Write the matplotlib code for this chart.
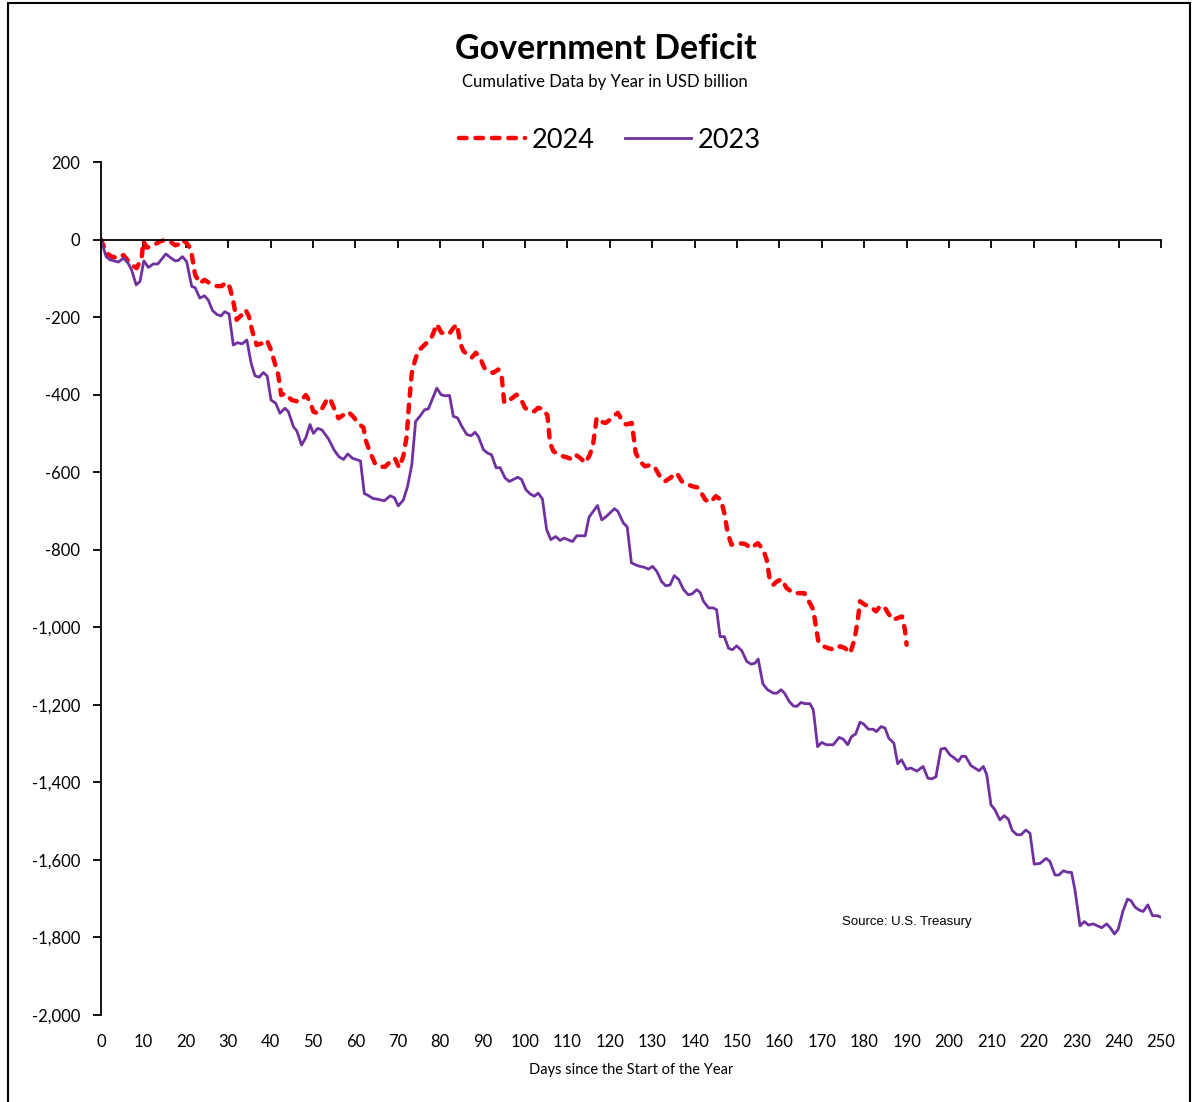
import matplotlib
matplotlib.use("Agg")
import matplotlib.pyplot as plt
from matplotlib.patches import Rectangle
from matplotlib.ticker import FuncFormatter

# (day since start of year, cumulative deficit, USD bn)
day_2024 = [0, 1.3, 2.5, 4.1, 5.3, 6.4, 7.2, 8.4, 9.6, 10.0, 10.8, 12.3, 13.9, 15.1, 16.3, 17.5, 18.4, 19.2,
            20.2, 21.2, 22.2, 23.3, 24.4, 25.7, 27.3, 28.5, 29.6, 30.4, 31.2, 32.0, 33.2, 34.1, 34.9, 35.7,
            36.7, 37.9, 39.1, 40.1, 41.0, 41.8, 42.5, 43.4, 45.0, 46.5, 47.3, 48.3, 49.3, 50.1, 51.1, 52.1,
            53.2, 54.0, 54.8, 56.0, 57.2, 58.3, 59.5, 60.7, 61.9, 62.4, 63.4, 64.6, 65.8, 67.0, 68.2, 69.3,
            70.3, 71.3, 72.1, 72.6, 73.3, 74.1, 74.8, 76.0, 77.2, 78.1, 79.2, 80.2, 81.1, 82.3, 83.1, 84.0,
            84.7, 85.5, 86.5, 87.4, 88.4, 89.4, 90.4, 91.5, 92.5, 93.7, 94.5, 95.1, 96.5, 98.0, 99.1, 100.0,
            101.2, 102.2, 103.1, 104.3, 105.3, 105.9, 106.7, 107.9, 109.0, 110.2, 111.4, 112.2, 113.2, 114.2,
            115.3, 116.1, 116.9, 117.9, 119.0, 120.0, 120.8, 121.9, 122.8, 123.8, 125.2, 126.1, 127.1, 128.3,
            129.7, 130.7, 131.8, 133.0, 134.2, 135.8, 137.0, 138.4, 139.7, 140.9, 142.5, 143.7, 145.0, 146.2,
            147.0, 147.8, 148.7, 150.3, 151.9, 153.3, 154.9, 156.2, 157.0, 157.8, 158.6, 159.4, 160.5, 161.7,
            163.3, 164.5, 165.9, 167.2, 168.0, 168.6, 169.2, 170.4, 171.5, 173.1, 174.3, 175.5, 176.7, 177.7,
            178.5, 179.0, 180.2, 181.8, 182.8, 183.7, 184.7, 185.6, 186.8, 188.0, 188.9, 189.6, 190.0]
deficit_2024 = [0, -35, -44, -48, -40, -55, -65, -74, -47, -4, -21, -15, -5, -1, -5, -15, -12, -1,
                -9, -25, -91, -113, -104, -113, -120, -120, -110, -124, -160, -207, -194, -181, -199, -237,
                -272, -268, -259, -285, -319, -349, -401, -397, -414, -418, -414, -401, -418, -444, -448, -437,
                -414, -409, -431, -461, -452, -444, -457, -474, -485, -517, -547, -577, -586, -586, -573, -564,
                -588, -559, -508, -430, -344, -310, -288, -275, -262, -249, -218, -239, -245, -241, -228, -219,
                -267, -288, -297, -305, -292, -305, -331, -340, -344, -335, -353, -421, -413, -400, -413, -434,
                -443, -443, -434, -437, -454, -525, -546, -555, -559, -563, -568, -557, -565, -576,
                -555, -525, -460, -470, -473, -465, -456, -447, -465, -477, -473, -550, -572, -585,
                -581, -589, -611, -624, -615, -602, -624, -632, -637, -640, -671, -678, -662, -671,
                -705, -757, -787, -783, -785, -796, -783, -800, -826, -882, -890, -882, -876, -899,
                -912, -912, -912, -938, -955, -998, -1037, -1049, -1054, -1058, -1049, -1054, -1067, -1032,
                -981, -933, -942, -950, -959, -946, -946, -963, -981, -976, -972, -1006, -1045]

day_2023 = [0, 1.2, 2.1, 4.1, 5.3, 6.4, 7.2, 8.3, 9.2, 10.1, 11.2, 12.3, 13.4, 15.3, 16.3, 17.5, 18.2, 19.2,
            20.2, 21.4, 22.2, 23.3, 24.4, 25.3, 26.3, 27.3, 28.3, 29.2, 30.2, 31.2, 32.2, 33.3, 34.4, 35.4,
            36.3, 37.3, 38.3, 39.2, 40.1, 41.2, 42.2, 43.4, 44.2, 45.4, 46.2, 47.3, 48.3, 49.3, 50.1, 51.1,
            52.1, 53.6, 55.0, 56.1, 57.2, 58.2, 59.3, 61.2, 62.1, 63.0, 64.2, 65.4, 66.8, 68.2, 69.2, 70.1,
            71.3, 72.3, 73.3, 74.2, 75.2, 76.3, 77.2, 78.1, 79.2, 80.2, 81.1, 82.2, 83.1, 84.1, 85.1, 86.3,
            87.3, 88.2, 89.0, 90.2, 91.2, 92.1, 93.2, 94.1, 95.3, 96.3, 97.2, 98.3, 99.2, 100.2, 101.2, 102.2,
            103.1, 104.1, 105.1, 106.1, 107.2, 108.3, 109.2, 111.2, 112.2, 114.2, 115.1, 117.1, 118.1, 119.0,
            121.1, 121.9, 123.2, 124.1, 125.1, 126.1, 127.1, 128.1, 129.1, 130.1, 131.1, 132.2, 133.2, 134.2,
            135.2, 136.2, 137.4, 138.5, 139.4, 140.5, 141.3, 142.1, 143.3, 144.4, 145.2, 146.0, 147.0, 148.0,
            148.9, 149.9, 151.1, 152.3, 153.3, 154.2, 155.0, 156.1, 157.2, 158.6, 159.4, 160.4, 161.2, 162.3,
            163.3, 164.1, 165.1, 166.0, 167.2, 168.0, 169.0, 170.0, 171.1, 172.7, 174.1, 175.1, 176.1, 177.0,
            178.0, 179.0, 179.8, 181.0, 182.1, 182.9, 184.0, 184.9, 185.8, 187.0, 187.9, 188.8, 190.0, 191.0,
            192.4, 193.9, 195.0, 195.9, 196.9, 198.1, 199.1, 200.2, 201.0, 202.2, 203.0, 203.9, 205.2, 206.1,
            207.1, 208.1, 208.9, 209.9, 210.8, 212.0, 213.0, 214.0, 214.9, 216.0, 217.0, 218.1, 219.1, 220.1,
            221.5, 222.9, 223.8, 225.0, 225.9, 227.0, 228.0, 228.9, 229.7, 230.9, 231.9, 232.9, 234.0, 236.0,
            237.2, 238.1, 239.0, 239.9, 241.0, 242.1, 242.9, 243.9, 244.8, 245.8, 246.9, 248.0, 249.2, 250.0]
deficit_2023 = [0, -44, -52, -58, -48, -61, -78, -117, -108, -55, -72, -63, -63, -37, -46, -55, -54, -44,
                -57, -121, -124, -151, -145, -156, -183, -193, -197, -186, -192, -272, -266, -269, -259, -319,
                -351, -355, -343, -352, -414, -422, -448, -435, -444, -483, -494, -530, -511, -477, -500, -487,
                -491, -513, -543, -560, -567, -553, -564, -571, -655, -660, -668, -670, -674, -661, -666, -687,
                -672, -637, -581, -469, -456, -439, -437, -413, -383, -400, -403, -402, -456, -460, -482, -503,
                -506, -497, -508, -542, -551, -555, -589, -588, -615, -624, -619, -613, -619, -645, -656, -662,
                -654, -669, -748, -774, -766, -776, -770, -779, -764, -764, -716, -686, -723, -716,
                -694, -701, -731, -741, -834, -839, -843, -845, -850, -843, -856, -882, -893, -891,
                -867, -876, -903, -916, -914, -903, -910, -933, -950, -950, -955, -1024, -1024, -1054,
                -1058, -1048, -1060, -1088, -1095, -1093, -1082, -1146, -1161, -1170, -1170, -1161, -1170, -1191,
                -1203, -1204, -1194, -1197, -1197, -1213, -1308, -1297, -1303, -1303, -1284, -1289, -1303, -1282,
                -1275, -1245, -1249, -1263, -1263, -1269, -1256, -1260, -1286, -1299, -1352, -1342, -1366, -1363,
                -1371, -1359, -1389, -1391, -1386, -1314, -1312, -1329, -1335, -1346, -1333, -1333, -1357, -1363,
                -1370, -1359, -1380, -1458, -1470, -1497, -1486, -1495, -1524, -1535, -1535, -1523, -1531, -1611,
                -1609, -1596, -1604, -1639, -1639, -1628, -1632, -1632, -1677, -1770, -1759, -1768, -1765, -1775,
                -1765, -1776, -1791, -1779, -1733, -1701, -1705, -1722, -1729, -1733, -1716, -1744, -1744, -1748]

x_ticks = list(range(0, 251, 10))
y_ticks = list(range(-2000, 201, 200))

FONT = "Lato"
plt.rcParams["font.family"] = [FONT, "DejaVu Sans"]

fig = plt.figure(figsize=(11.96, 11.02), dpi=100)
ax = fig.add_axes([101 / 1196, 1 - 1015 / 1102, 1060 / 1196, 853 / 1102])

ax.plot(day_2024, deficit_2024, color="#FF0000", lw=3.2, dashes=(1.7, 2.0),
        dash_capstyle="round", label="2024")
ax.plot(day_2023, deficit_2023, color="#7030A0", lw=2.0, label="2023")

ax.set_xlim(0, 250)
ax.set_ylim(-2000, 200)

# x axis line crosses at zero, labels stay at the bottom
for s in ("top", "right"):
    ax.spines[s].set_visible(False)
ax.spines["bottom"].set_position(("data", 0))
ax.spines["bottom"].set_linewidth(1.3)
ax.spines["left"].set_linewidth(1.3)
ax.set_xticks(x_ticks)
ax.tick_params(axis="x", direction="out", length=6, width=1.3, labelbottom=False)

lab = ax.secondary_xaxis("bottom")
lab.set_xticks(x_ticks)
lab.spines["bottom"].set_visible(False)
lab.tick_params(axis="x", length=0, pad=14, labelsize=12)
lab.set_xlabel("Days since the Start of the Year", fontsize=10.5, labelpad=9)

ax.set_yticks(y_ticks)
ax.yaxis.set_major_formatter(FuncFormatter(lambda v, _: f"{v:,.0f}"))
ax.tick_params(axis="y", direction="out", length=6, width=1.3, labelsize=12, pad=9)

fig.text(606 / 1196, 1 - 49 / 1102, "Government Deficit", ha="center", va="center",
         fontsize=24.5, fontweight="bold")
fig.text(605 / 1196, 1 - 82 / 1102, "Cumulative Data by Year in USD billion", ha="center",
         va="center", fontsize=12)

fig.legend(loc="center", bbox_to_anchor=(610 / 1196, 1 - 140 / 1102), ncol=2, frameon=False,
           fontsize=19.5, handlelength=2.45, handletextpad=0.25, columnspacing=1.1)

fig.text(842 / 1196, 1 - 922 / 1102, "Source: U.S. Treasury", ha="left", va="center",
         fontsize=9.5, family="Liberation Sans")

fig.patches.append(Rectangle((8 / 1196, -0.05), 1182 / 1196, 1.05 - 3 / 1102,
                             transform=fig.transFigure, fill=False, lw=1.5, ec="black"))

fig.savefig("out.png", dpi=100)
